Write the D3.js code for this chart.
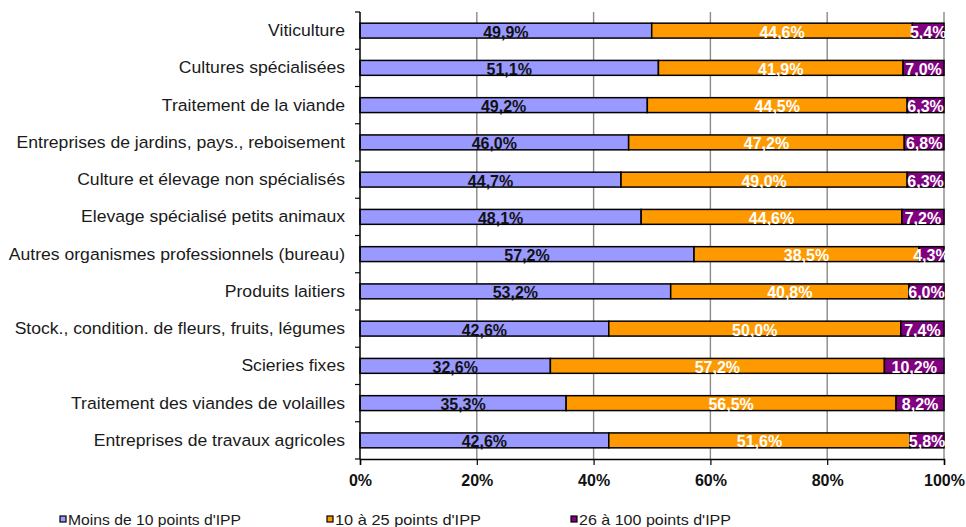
<!DOCTYPE html>
<html>
<head>
<meta charset="utf-8">
<script src="https://cdn.jsdelivr.net/npm/d3@7"></script>
<style>
  html, body { margin: 0; padding: 0; background: #fff; }
  svg { display: block; }
  text { font-family: "Liberation Sans", Arial, sans-serif; }
</style>
</head>
<body>
<svg id="chart" width="966" height="527"></svg>
<script>
// Sector labels, top to bottom
const categories = [
  "Viticulture",
  "Cultures spécialisées",
  "Traitement de la viande",
  "Entreprises de jardins, pays., reboisement",
  "Culture et élevage non spécialisés",
  "Elevage spécialisé petits animaux",
  "Autres organismes professionnels (bureau)",
  "Produits laitiers",
  "Stock., condition. de fleurs, fruits, légumes",
  "Scieries fixes",
  "Traitement des viandes de volailles",
  "Entreprises de travaux agricoles"
];

// Share of workers per IPP bracket (%)
const moins10 = [49.9, 51.1, 49.2, 46.0, 44.7, 48.1, 57.2, 53.2, 42.6, 32.6, 35.3, 42.6];
const de10a25 = [44.6, 41.9, 44.5, 47.2, 49.0, 44.6, 38.5, 40.8, 50.0, 57.2, 56.5, 51.6];
const de26a100 = [5.4, 7.0, 6.3, 6.8, 6.3, 7.2, 4.3, 6.0, 7.4, 10.2, 8.2, 5.8];

const seriesNames = ["Moins de 10 points d'IPP", "10 à 25 points d'IPP", "26 à 100 points d'IPP"];
const seriesColors = ["#9999FF", "#FF9900", "#800080"];
const labelColors = ["#111111", "#FFFFFF", "#FFFFFF"];
const xTicks = [0, 0.2, 0.4, 0.6, 0.8, 1.0];

(function draw() {
  const svg = d3.select("#chart");
  const plotLeft = 360, plotRight = 944, plotTop = 12, plotBottom = 459;

  const x = d3.scaleLinear().domain([0, 1]).range([plotLeft, plotRight]);
  const y = d3.scaleBand().domain(categories).range([plotTop, plotBottom])
    .paddingInner(0.6).paddingOuter(0.3);

  // Rows for a 100% stacked layout
  const rows = categories.map((c, i) => ({
    cat: c, a: moins10[i], b: de10a25[i], c: de26a100[i]
  }));
  const keys = ["a", "b", "c"];
  const stacked = d3.stack().keys(keys).offset(d3.stackOffsetExpand)(rows);

  // Vertical gridlines
  svg.append("g").selectAll("line")
    .data(xTicks.slice(1))
    .join("line")
    .attr("x1", d => x(d)).attr("x2", d => x(d))
    .attr("y1", plotTop).attr("y2", plotBottom)
    .attr("stroke", "#8a8a8a").attr("stroke-width", 1.4);

  // Bars
  const layers = svg.append("g").selectAll("g")
    .data(stacked)
    .join("g")
    .attr("fill", (d, i) => seriesColors[i]);

  layers.selectAll("rect")
    .data(d => d)
    .join("rect")
    .attr("x", d => x(d[0]))
    .attr("y", d => y(d.data.cat))
    .attr("width", d => x(d[1]) - x(d[0]))
    .attr("height", y.bandwidth())
    .attr("stroke", "#000")
    .attr("stroke-width", 1.5);

  // Value labels
  const fmt = v => v.toFixed(1).replace(".", ",") + "%";
  stacked.forEach((layer, si) => {
    svg.append("g").selectAll("text")
      .data(layer)
      .join("text")
      .attr("x", d => (x(d[0]) + x(d[1])) / 2)
      .attr("y", d => y(d.data.cat) + y.bandwidth() / 2 + 7)
      .attr("text-anchor", "middle")
      .attr("font-size", 16)
      .attr("font-weight", "bold")
      .attr("fill", labelColors[si])
      .text(d => fmt(d.data[keys[si]]));
  });

  // Left axis: line, boundary ticks, category labels
  svg.append("line")
    .attr("x1", plotLeft).attr("x2", plotLeft).attr("y1", plotTop).attr("y2", plotBottom)
    .attr("stroke", "#000").attr("stroke-width", 1.5);
  const boundaries = d3.range(categories.length + 1).map(k => plotTop + k * y.step());
  svg.append("g").selectAll("line")
    .data(boundaries)
    .join("line")
    .attr("x1", plotLeft - 5).attr("x2", plotLeft)
    .attr("y1", d => d).attr("y2", d => d)
    .attr("stroke", "#000").attr("stroke-width", 1.2);

  // Category labels, slightly widened
  svg.append("g").selectAll("text")
    .data(categories)
    .join("text")
    .attr("x", 345)
    .attr("y", d => y(d) + y.bandwidth() / 2 + 5.5)
    .attr("text-anchor", "end")
    .attr("font-size", 16.3)
    .attr("fill", "#1a1a1a")
    .text(d => d)
    .each(function () {
      const w = this.getComputedTextLength();
      d3.select(this).attr("textLength", w * 1.08).attr("lengthAdjust", "spacingAndGlyphs");
    });

  // Bottom axis
  const xAxis = d3.axisBottom(x).tickValues(xTicks).tickSize(6)
    .tickFormat(d => Math.round(d * 100) + "%");
  const gx = svg.append("g").attr("transform", `translate(0,${plotBottom})`).call(xAxis);
  gx.select(".domain").attr("stroke", "#000").attr("stroke-width", 1.5);
  gx.selectAll(".tick line").attr("stroke", "#000").attr("stroke-width", 1.2);
  gx.selectAll(".tick text")
    .attr("font-family", "'Liberation Sans', Arial, sans-serif")
    .attr("font-size", 16).attr("font-weight", "bold")
    .attr("fill", "#111").attr("dy", "1.1em");

  // Legend
  const legendX = [60, 327, 571];
  const legendW = [173, 146, 152];
  const lg = svg.append("g").selectAll("g")
    .data(seriesNames)
    .join("g")
    .attr("transform", (d, i) => `translate(${legendX[i]},516)`);
  lg.append("rect")
    .attr("width", 6).attr("height", 6)
    .attr("fill", (d, i) => seriesColors[i])
    .attr("stroke", "#000").attr("stroke-width", 1.2);
  lg.append("text")
    .attr("x", 8).attr("y", 9)
    .attr("font-size", 15)
    .attr("fill", "#1a1a1a")
    .attr("textLength", (d, i) => legendW[i])
    .attr("lengthAdjust", "spacingAndGlyphs")
    .text(d => d);
})();
</script>
</body>
</html>
